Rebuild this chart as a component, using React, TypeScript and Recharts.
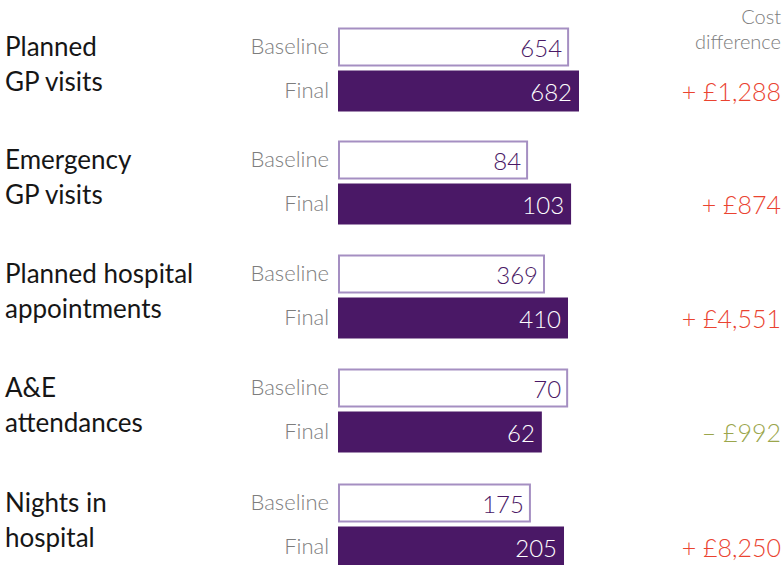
import React from "react";
import { BarChart, Bar, XAxis, YAxis, LabelList } from "recharts";

const groupNames: string[][] = [
  ["Planned", "GP visits"],
  ["Emergency", "GP visits"],
  ["Planned hospital", "appointments"],
  ["A&E", "attendances"],
  ["Nights in", "hospital"],
];
const rowLabels = ["Baseline", "Final"];
const baselineValues = [654, 84, 369, 70, 175];
const finalValues = [682, 103, 410, 62, 205];
const costDifferences = ["+ £1,288", "+ £874", "+ £4,551", "– £992", "+ £8,250"];
const costIncrease = [true, true, true, false, true];
const scaleMax = [682, 106.5, 429.6, 73.3, 218.6];
const costHeader = ["Cost", "difference"];

const groupTops = [0, 113, 227, 341, 456];
const DARK = "#4a1866";
const LIGHT = "#a58fc2";
const GREY = "#7d7d7d";
const RED = "#ea4330";
const GREEN = "#9ba64c";
const FONT = "Lato, 'Open Sans', sans-serif";

const BarShape = (props: any) => {
  const { x, y, width, height, payload } = props;
  if (payload.row === rowLabels[0]) {
    return (
      <rect
        x={x + 1}
        y={y + 2}
        width={Math.max(width - 2, 0)}
        height={Math.max(height - 4, 0)}
        fill="#ffffff"
        stroke={LIGHT}
        strokeWidth={2}
      />
    );
  }
  return <rect x={x} y={y} width={width} height={height} fill={DARK} />;
};

const renderValue = (props: any) => {
  const { x, y, width, height, value, index } = props;
  const isBase = index === 0;
  return (
    <text
      x={x + width - 7}
      y={y + height / 2}
      textAnchor="end"
      dominantBaseline="central"
      fill={isBase ? DARK : "#ffffff"}
      fontSize={24}
      fontFamily={FONT}
      fontWeight={300}
    >
      {value}
    </text>
  );
};

const Group = ({ i }: { i: number }) => {
  const data = [
    { row: rowLabels[0], value: baselineValues[i] },
    { row: rowLabels[1], value: finalValues[i] },
  ];
  return (
    <div style={{ position: "absolute", left: 0, top: groupTops[i], width: 784, height: 114 }}>
      <BarChart
        width={784}
        height={114}
        data={data}
        layout="vertical"
        margin={{ top: 24.5, bottom: 1.5, left: 238, right: 205 }}
      >
        <XAxis type="number" domain={[0, scaleMax[i]]} hide />
        <YAxis
          type="category"
          dataKey="row"
          width={100}
          axisLine={false}
          tickLine={false}
          tickMargin={3}
          tick={{ fill: GREY, fontSize: 22, fontFamily: FONT, fontWeight: 300 }}
        />
        <Bar dataKey="value" barSize={41} shape={BarShape} isAnimationActive={false}>
          <LabelList dataKey="value" content={renderValue} />
        </Bar>
      </BarChart>
      <div
        style={{
          position: "absolute",
          left: 5,
          top: 29,
          fontFamily: FONT,
          fontSize: 26,
          lineHeight: "35px",
          color: "#161616",
          whiteSpace: "nowrap",
        }}
      >
        {groupNames[i].map((l, k) => (
          <div key={k}>{l}</div>
        ))}
      </div>
      <div
        style={{
          position: "absolute",
          right: 3,
          top: 74,
          fontFamily: FONT,
          fontWeight: 300,
          fontSize: 25,
          lineHeight: "34px",
          color: costIncrease[i] ? RED : GREEN,
          whiteSpace: "nowrap",
        }}
      >
        {costDifferences[i]}
      </div>
    </div>
  );
};

export default function App() {
  return (
    <div
      style={{
        position: "absolute",
        left: 0,
        top: 0,
        width: 784,
        height: 565,
        background: "#ffffff",
        overflow: "hidden",
      }}
    >
      <div
        style={{
          position: "absolute",
          right: 3,
          top: 4,
          textAlign: "right",
          fontFamily: FONT,
          fontWeight: 300,
          fontSize: 20,
          lineHeight: "25px",
          color: GREY,
        }}
      >
        {costHeader.map((l, k) => (
          <div key={k}>{l}</div>
        ))}
      </div>
      {groupNames.map((_, i) => (
        <Group key={i} i={i} />
      ))}
    </div>
  );
}
